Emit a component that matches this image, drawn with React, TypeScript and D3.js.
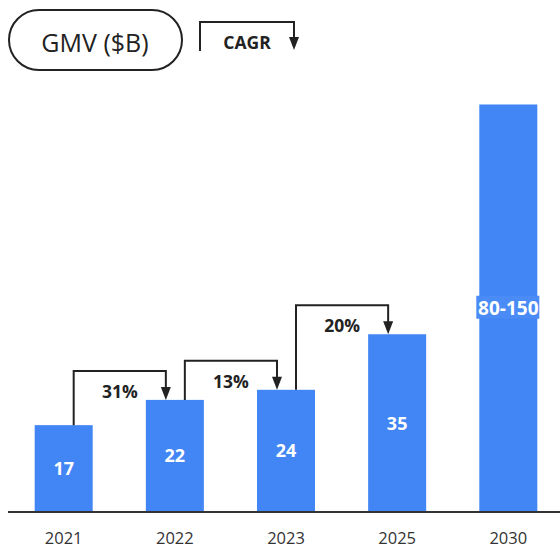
import React from "react";
import * as d3 from "d3";

const categories = ["2021", "2022", "2023", "2025", "2030"];
const values = [17, 22, 24, 35, 80.5];
const valueLabels = ["17", "22", "24", "35", "80-150"];
const cagrLinks = [
  { from: 0, to: 1, label: "31%" },
  { from: 1, to: 2, label: "13%" },
  { from: 2, to: 3, label: "20%" },
];

const W = 560;
const H = 549;
const BLUE = "#4285F4";
const DARK = "#222222";
const FONT = "'Open Sans', Roboto, sans-serif";

export default function App() {
  const x = d3.scaleBand<string>().domain(categories).range([8, 564]).paddingInner(0.478).paddingOuter(0.24);
  const y = d3.scaleLinear().domain([0, 100]).range([511, 6]);
  const bw = x.bandwidth();

  const arrowHead = (cx: number, tipY: number) => {
    const p = d3.path();
    p.moveTo(cx - 5, tipY - 13);
    p.lineTo(cx + 5, tipY - 13);
    p.lineTo(cx, tipY);
    p.closePath();
    return p.toString();
  };

  return (
    <svg width={W} height={H} style={{ position: "absolute", left: 0, top: 0, background: "#fff" }}>
      {/* header pill */}
      <rect x={9} y={10} width={173} height={60} rx={30} fill="none" stroke={DARK} strokeWidth={2} />
      <text x={95} y={42} textAnchor="middle" dominantBaseline="central" fontFamily={FONT} fontSize={25} fill={DARK}>
        GMV ($B)
      </text>
      {/* CAGR legend */}
      <path d={`M200,51 V22 H294 V40`} fill="none" stroke={DARK} strokeWidth={2} />
      <path d={arrowHead(294, 50)} fill={DARK} />
      <text x={247} y={42} textAnchor="middle" dominantBaseline="central" fontFamily={FONT} fontWeight={700} fontSize={17.5} fill={DARK}>
        CAGR
      </text>

      {/* bars */}
      {categories.map((c, i) => {
        const x0 = x(c)!;
        const top = y(values[i]);
        const mid = (top + y(0)) / 2;
        return (
          <g key={c}>
            <rect x={x0} y={top} width={bw} height={y(0) - top} fill={BLUE} />
            {i === categories.length - 1 && (
              <rect x={x0 - 3} y={mid - 12} width={bw + 5} height={23} fill="#4a8bf5" />
            )}
            <text
              x={x0 + bw / 2}
              y={mid}
              textAnchor="middle"
              dominantBaseline="central"
              fontFamily={FONT}
              fontWeight={700}
              fontSize={i === categories.length - 1 ? 19 : 18}
              fill="#fff"
            >
              {valueLabels[i]}
            </text>
            <text
              x={x0 + bw / 2}
              y={544}
              textAnchor="middle"
              fontFamily={FONT}
              fontSize={16.5}
              fill="#333"
            >
              {c}
            </text>
          </g>
        );
      })}

      {/* CAGR connectors */}
      {cagrLinks.map((l) => {
        const a = categories[l.from];
        const b = categories[l.to];
        const sx = x(a)! + bw / 2 + 10;
        const ex = x(b)! + bw / 2 - 9;
        const sTop = y(values[l.from]);
        const eTop = y(values[l.to]);
        const lineY = Math.min(sTop, eTop) - 29;
        return (
          <g key={l.label}>
            <path d={`M${sx},${sTop} V${lineY} H${ex} V${eTop - 12}`} fill="none" stroke={DARK} strokeWidth={2} />
            <path d={arrowHead(ex, eTop)} fill={DARK} />
            <text
              x={(sx + ex) / 2}
              y={lineY + 20}
              textAnchor="middle"
              dominantBaseline="central"
              fontFamily={FONT}
              fontWeight={700}
              fontSize={17.5}
              fill={DARK}
            >
              {l.label}
            </text>
          </g>
        );
      })}

      {/* baseline */}
      <line x1={8} x2={W} y1={y(0) + 1} y2={y(0) + 1} stroke="#333" strokeWidth={2} />
    </svg>
  );
}
